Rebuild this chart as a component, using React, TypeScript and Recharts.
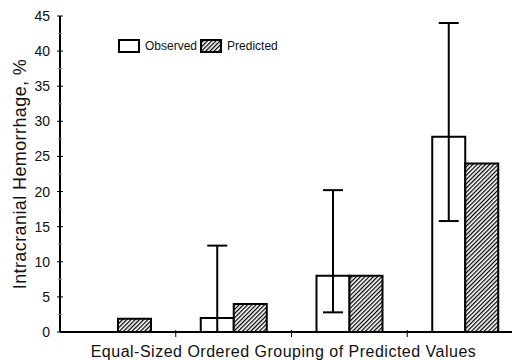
import React from "react";
import { BarChart, Bar, XAxis, YAxis, ErrorBar } from "recharts";

const groups = ["1", "2", "3", "4"];
const observed = [0, 2, 8, 27.8];
const predicted = [1.9, 4, 8, 24];
// error bar offsets [below, above] for the observed bars
const observedErr: ([number, number] | null)[] = [null, [2, 10.3], [5.2, 12.2], [12, 16.2]];
const yTicks = [0, 2.5, 5, 7.5, 10, 12.5, 15, 17.5, 20, 22.5, 25, 27.5, 30, 32.5, 35, 37.5, 40, 42.5, 45];

const data = groups.map((g, i) => ({
  group: g,
  observed: observed[i],
  predicted: predicted[i],
  obsErr: observedErr[i],
}));

const FONT = "'Liberation Sans', Arial, sans-serif";

const YTick = (props: any) => {
  const { x, y, payload } = props;
  const major = payload.value % 5 === 0;
  return (
    <g>
      <line x1={x - (major ? 3 : 2)} x2={x + (major ? 3 : 2)} y1={y} y2={y} stroke={major ? "#000" : "#888"} strokeWidth={1} />
      {major && (
        <text x={x - 10} y={y} dy={5} textAnchor="end" fontSize={14} fill="#111" fontFamily={FONT}>
          {payload.value}
        </text>
      )}
    </g>
  );
};

const XTick = (props: any) => {
  const { x, y, payload } = props;
  const bx = x + (payload.offset || 0);
  return <line x1={bx} x2={bx} y1={y - 2} y2={y + 5} stroke="#000" strokeWidth={1} />;
};

const LegendBox = () => (
  <div style={{ display: "flex", alignItems: "center", fontFamily: FONT, fontSize: 12, color: "#111" }}>
    <svg width={22} height={14} style={{ marginRight: 5 }}>
      <rect x={1} y={1} width={20} height={12} fill="#fff" stroke="#000" strokeWidth={2} />
    </svg>
    <span style={{ marginRight: 3 }}>Observed</span>
    <svg width={22} height={14} style={{ marginRight: 5 }}>
      <rect x={1} y={1} width={20} height={12} fill="url(#hatch)" stroke="#000" strokeWidth={2} />
    </svg>
    <span>Predicted</span>
  </div>
);

export default function App() {
  return (
    <div style={{ position: "absolute", left: 0, top: 0, width: 512, height: 360, overflow: "hidden", background: "#fff" }}>
      <BarChart
        width={530}
        height={360}
        data={data}
        margin={{ top: 16, right: 7, bottom: 0, left: 0 }}
        barGap={0}
        barSize={33}
      >
        <defs>
          <pattern id="hatch" patternUnits="userSpaceOnUse" width={3} height={3} patternTransform="rotate(45)">
            <rect width={3} height={3} fill="#fff" />
            <line x1={0.6} y1={0} x2={0.6} y2={3} stroke="#000" strokeWidth={1.3} />
          </pattern>
        </defs>
        <XAxis
          dataKey="group"
          height={28}
          axisLine={{ stroke: "#000", strokeWidth: 2 }}
          tickLine={false}
          tickSize={0}
          tickMargin={0}
          tick={<XTick />}
          interval={0}
          label={{
            value: "Equal-Sized Ordered Grouping of Predicted Values",
            position: "insideBottom",
            offset: 3,
            dx: -8,
            style: { fontSize: 16, letterSpacing: 0.5, fill: "#111", fontFamily: FONT },
          }}
        />
        <YAxis
          domain={[0, 45]}
          ticks={yTicks}
          width={60}
          interval={0}
          axisLine={{ stroke: "#000", strokeWidth: 2 }}
          tickLine={false}
          tickSize={0}
          tickMargin={0}
          tick={<YTick />}
          label={{
            value: "Intracranial Hemorrhage, %",
            angle: -90,
            position: "insideLeft",
            offset: 20,
            style: { textAnchor: "middle", fontSize: 18, letterSpacing: 0.4, fill: "#111", fontFamily: FONT },
          }}
        />
        <Bar dataKey="observed" name="Observed" fill="#fff" stroke="#000" strokeWidth={2} isAnimationActive={false}>
          <ErrorBar dataKey="obsErr" width={10} stroke="#000" strokeWidth={2} direction="y" />
        </Bar>
        <Bar dataKey="predicted" name="Predicted" fill="url(#hatch)" stroke="#000" strokeWidth={2} isAnimationActive={false} />
      </BarChart>
      <div style={{ position: "absolute", left: 118, top: 39 }}>
        <LegendBox />
      </div>
    </div>
  );
}
